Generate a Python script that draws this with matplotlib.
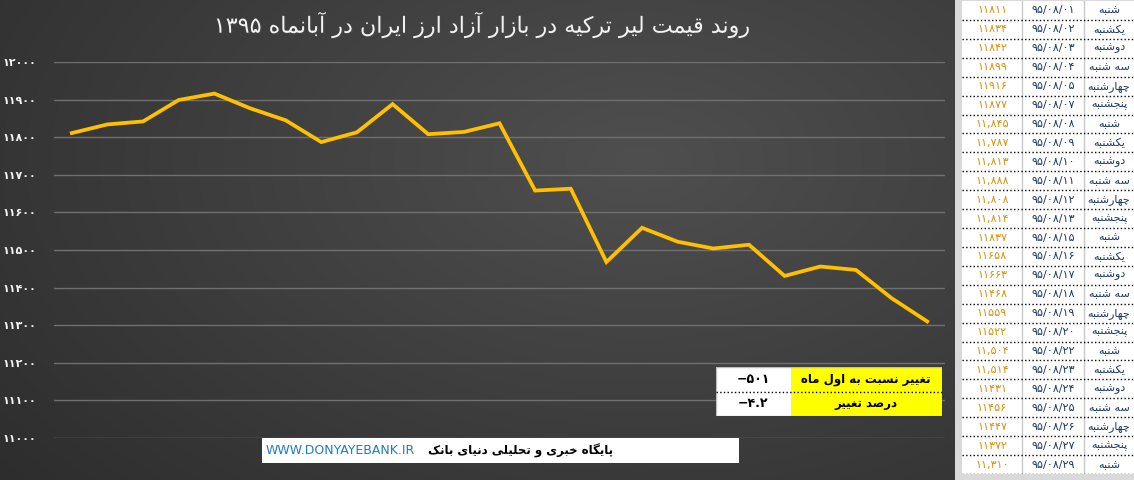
import re
import matplotlib
matplotlib.use('Agg')
import matplotlib.pyplot as plt
import matplotlib.patheffects as pe
from matplotlib.patches import Rectangle
import numpy as np

# Data: Turkish lira rate, Aban 1395
days = [1, 2, 3, 4, 5, 7, 8, 9, 10, 11, 12, 13, 15, 16, 17, 18, 19, 20,
        22, 23, 24, 25, 26, 27, 29]
weekdays = ['شنبه', 'یکشنبه', 'دوشنبه', 'سه شنبه', 'چهارشنبه', 'پنجشنبه',
            'شنبه', 'یکشنبه', 'دوشنبه', 'سه شنبه', 'چهارشنبه', 'پنجشنبه',
            'شنبه', 'یکشنبه', 'دوشنبه', 'سه شنبه', 'چهارشنبه', 'پنجشنبه',
            'شنبه', 'یکشنبه', 'دوشنبه', 'سه شنبه', 'چهارشنبه', 'پنجشنبه',
            'شنبه']
prices = [11811, 11834, 11842, 11899, 11916, 11877, 11845, 11787, 11813,
          11888, 11808, 11814, 11837, 11658, 11663, 11468, 11559, 11522,
          11504, 11514, 11431, 11456, 11447, 11372, 11310]
comma_days = [8, 9, 10, 11, 12, 13, 22, 23, 29]
yticks = [11000, 11100, 11200, 11300, 11400, 11500, 11600, 11700, 11800, 11900, 12000]

title = 'روند قیمت لیر ترکیه در بازار آزاد ارز ایران در آبانماه ۱۳۹۵'
summary_labels = ['تغییر نسبت به اول ماه', 'درصد تغییر']
summary_values = ['−۵۰۱', '−۴.۲']
site_url = 'WWW.DONYAYEBANK.IR'
site_name = 'پایگاه خبری و تحلیلی دنیای بانک'

# --- simple Persian shaping (matplotlib has no bidi / joining) ---
FORMS = {
    'ا': ('\uFE8D', '\uFE8E', None, None), 'آ': ('\uFE81', '\uFE82', None, None),
    'ب': ('\uFE8F', '\uFE90', '\uFE91', '\uFE92'), 'پ': ('\uFB56', '\uFB57', '\uFB58', '\uFB59'),
    'ت': ('\uFE95', '\uFE96', '\uFE97', '\uFE98'), 'ث': ('\uFE99', '\uFE9A', '\uFE9B', '\uFE9C'),
    'ج': ('\uFE9D', '\uFE9E', '\uFE9F', '\uFEA0'), 'چ': ('\uFB7A', '\uFB7B', '\uFB7C', '\uFB7D'),
    'ح': ('\uFEA1', '\uFEA2', '\uFEA3', '\uFEA4'), 'خ': ('\uFEA5', '\uFEA6', '\uFEA7', '\uFEA8'),
    'د': ('\uFEA9', '\uFEAA', None, None), 'ذ': ('\uFEAB', '\uFEAC', None, None),
    'ر': ('\uFEAD', '\uFEAE', None, None), 'ز': ('\uFEAF', '\uFEB0', None, None),
    'ژ': ('\uFB8A', '\uFB8B', None, None),
    'س': ('\uFEB1', '\uFEB2', '\uFEB3', '\uFEB4'), 'ش': ('\uFEB5', '\uFEB6', '\uFEB7', '\uFEB8'),
    'ص': ('\uFEB9', '\uFEBA', '\uFEBB', '\uFEBC'), 'ض': ('\uFEBD', '\uFEBE', '\uFEBF', '\uFEC0'),
    'ط': ('\uFEC1', '\uFEC2', '\uFEC3', '\uFEC4'), 'ظ': ('\uFEC5', '\uFEC6', '\uFEC7', '\uFEC8'),
    'ع': ('\uFEC9', '\uFECA', '\uFECB', '\uFECC'), 'غ': ('\uFECD', '\uFECE', '\uFECF', '\uFED0'),
    'ف': ('\uFED1', '\uFED2', '\uFED3', '\uFED4'), 'ق': ('\uFED5', '\uFED6', '\uFED7', '\uFED8'),
    'ک': ('\uFB8E', '\uFB8F', '\uFB90', '\uFB91'), 'گ': ('\uFB92', '\uFB93', '\uFB94', '\uFB95'),
    'ل': ('\uFEDD', '\uFEDE', '\uFEDF', '\uFEE0'), 'م': ('\uFEE1', '\uFEE2', '\uFEE3', '\uFEE4'),
    'ن': ('\uFEE5', '\uFEE6', '\uFEE7', '\uFEE8'), 'و': ('\uFEED', '\uFEEE', None, None),
    'ه': ('\uFEE9', '\uFEEA', '\uFEEB', '\uFEEC'), 'ی': ('\uFBFC', '\uFBFD', '\uFBFE', '\uFBFF'),
}


def fa(text):
    out = []
    for i, ch in enumerate(text):
        if ch not in FORMS:
            out.append(ch)
            continue
        iso, fin, ini, med = FORMS[ch]
        prev = text[i - 1] if i > 0 else ''
        nxt = text[i + 1] if i + 1 < len(text) else ''
        jp = prev in FORMS and FORMS[prev][2] is not None
        jn = ini is not None and nxt in FORMS
        out.append(med if (jp and jn) else fin if jp else ini if jn else iso)
    s = ''.join(out)[::-1]
    return re.sub(r'[0-9۰-۹.,/]+', lambda m: m.group(0)[::-1], s)


PD = str.maketrans('0123456789', '۰۱۲۳۴۵۶۷۸۹')


def pnum(v):
    return str(v).translate(PD)


plt.rcParams['font.family'] = ['DejaVu Sans']
W, H = 1134, 480
fig = plt.figure(figsize=(W / 100, H / 100), dpi=100)
fig.patch.set_facecolor('#d9d9d9')

# background gradient of the chart area
bg = fig.add_axes([0, 0, 955 / W, 1])
yy, xx = np.mgrid[0:240, 0:478]
r = np.sqrt(((xx - 320) / 500.0) ** 2 + ((yy - 80) / 300.0) ** 2)
shade = np.clip(0.31 - 0.16 * r, 0.14, 0.31)
bg.imshow(np.dstack([shade] * 3), aspect='auto', interpolation='bilinear')
bg.axis('off')

# line chart
ax = fig.add_axes([54 / W, 42 / H, 891 / W, 376 / H])
ax.patch.set_alpha(0)
x = np.arange(len(prices))
ax.plot(x, prices, color='#FFC000', lw=2.7, solid_joinstyle='miter', zorder=3)
ax.set_xlim(-0.5, len(prices) - 0.5)
ax.set_ylim(11000, 12000)
ax.set_yticks(yticks)
ax.set_yticklabels([pnum(t) for t in yticks], color='#f2f2f2',
                   fontsize=8, fontweight='bold')
ax.set_xticks([])
ax.tick_params(axis='y', length=0, pad=13)
ax.grid(axis='y', color='#707070', lw=1)
for s in ax.spines.values():
    s.set_visible(False)

fig.text(483 / W, 1 - 25 / H, fa(title), color='#f2f2f2', fontsize=16,
         ha='center', va='center',
         path_effects=[pe.withSimplePatchShadow(offset=(1, -1), alpha=0.6)])

# summary box
sx = fig.add_axes([716 / W, 64 / H, 226 / W, 49 / H])
sx.set_xlim(0, 226)
sx.set_ylim(len(summary_labels), 0)
sx.axis('off')
for i, (lab, val) in enumerate(zip(summary_labels, summary_values)):
    sx.add_patch(Rectangle((0, i), 75, 1, fc='white', ec='none'))
    sx.add_patch(Rectangle((75, i), 151, 1, fc='#FFFF00', ec='none'))
    sx.text(150, i + 0.5, fa(lab), ha='center', va='center', fontsize=8.5,
            fontweight='bold', color='black')
    sx.text(37, i + 0.5, val, ha='center', va='center', fontsize=9,
            fontweight='bold', color='black')
sx.plot([0, 226], [1, 1], color='black', lw=1, ls=':')
sx.add_patch(Rectangle((0, 0), 226, len(summary_labels), fc='none',
                       ec='#bfbfbf', lw=1))

# site footer
fx = fig.add_axes([262 / W, 17 / H, 477 / W, 25 / H])
fx.set_facecolor('white')
fx.set_xticks([])
fx.set_yticks([])
for s in fx.spines.values():
    s.set_visible(False)
fx.text(0.008, 0.5, site_url, color='#1F7BC4', fontsize=9, va='center',
        ha='left', transform=fx.transAxes)
fx.text(0.735, 0.5, fa(site_name), color='black', fontsize=8.5,
        fontweight='bold', va='center', ha='right', transform=fx.transAxes)

# data table on the right
tx = fig.add_axes([962 / W, 6 / H, 172 / W, 473 / H])
tx.set_facecolor('white')
tx.set_xlim(0, 172)
tx.set_ylim(len(prices), 0)
tx.set_xticks([])
tx.set_yticks([])
for s in tx.spines.values():
    s.set_visible(False)
for c in (60, 122):
    tx.axvline(c, color='#c8c8c8', lw=1)
for i, (d, wd, p) in enumerate(zip(days, weekdays, prices)):
    yc = i + 0.5
    vs = pnum(p)
    if d in comma_days:
        vs = vs[:2] + ',' + vs[2:]
    tx.text(30, yc, vs, ha='center', va='center', fontsize=8,
            color='#D9900B')
    tx.text(91, yc, '۹۵/۰۸/' + pnum(f'{d:02d}'), ha='center', va='center',
            fontsize=8, color='#1F3864')
    tx.text(147, yc, fa(wd), ha='center', va='center', fontsize=8,
            color='#1F3864')
    tx.plot([0, 172], [i + 1, i + 1], color='black', lw=1, ls=':')

fig.savefig('out.png', dpi=100)
